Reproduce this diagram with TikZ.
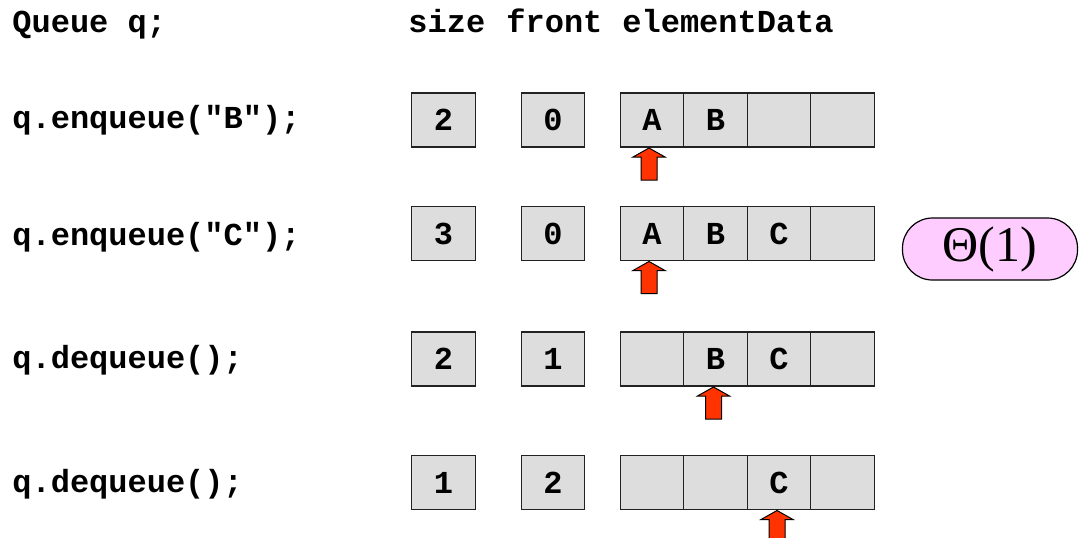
\documentclass[tikz,border=0pt]{standalone}
\usepackage{fontspec}
\setmainfont{Liberation Serif}
\newfontfamily\codefont{Liberation Mono}
\usetikzlibrary{positioning}
\definecolor{cellgray}{HTML}{DDDDDD}
\definecolor{edgegray}{HTML}{222222}
\definecolor{ptrred}{HTML}{FF3300}
\definecolor{thetapink}{HTML}{FFCCFF}

\begin{document}
\begin{tikzpicture}[
  x=0.5pt, y=-0.5pt,
  code/.style={font=\codefont\bfseries\fontsize{16}{19}\selectfont,
    anchor=base west, inner sep=0pt},
  cell/.style={draw=edgegray, line width=0.6pt, fill=cellgray,
    minimum width=31.75pt, minimum height=27pt, inner sep=0pt, outer sep=0pt,
    font=\codefont\bfseries\fontsize{16}{19}\selectfont},
  ptr/.style={draw=black, line width=0.5pt, fill=ptrred, line join=miter},
  theta/.style={draw=black, line width=0.6pt, fill=thetapink,
    rounded corners=15pt, minimum width=87.5pt, minimum height=31pt,
    font=\fontsize{25}{29}\selectfont},
]

% Background
\fill[white] (0,0) rectangle (1080,537);
\useasboundingbox (0,0) rectangle (1080,537);

% Header line
\node[code] (decl) at (12,32) {Queue q;};
\node[code] (hsize) at (408,32) {size};
\node[code] (hfront) at (506,32) {front};
\node[code] (hdata) at (622,32) {elementData};

% =============================================
% Row 1: enqueue B
% =============================================
\node[code] (op1) at (12,128) {q.enqueue("B");};
\node[cell] (s1) at (443.5,120) {2};
\node[cell] (f1) at (553,120) {0};
\node[cell] (e1a) at (652,120) {A};
\node[cell, right=0pt of e1a] (e1b) {B};
\node[cell, right=0pt of e1b] (e1c) {};
\node[cell, right=0pt of e1c] (e1d) {};
% front pointer
\draw[ptr] ([xshift=-1.5pt, yshift=-0.5pt]e1a.south) -- ++(16,9) -- ++(-8,0)
  -- ++(0,23) -- ++(-16,0) -- ++(0,-23) -- ++(-8,0) -- cycle;

% =============================================
% Row 2: enqueue C
% =============================================
\node[code] (op2) at (12,245) {q.enqueue("C");};
\node[cell] (s2) at (443.5,233.5) {3};
\node[cell] (f2) at (553,233.5) {0};
\node[cell] (e2a) at (652,233.5) {A};
\node[cell, right=0pt of e2a] (e2b) {B};
\node[cell, right=0pt of e2b] (e2c) {C};
\node[cell, right=0pt of e2c] (e2d) {};
\draw[ptr] ([xshift=-1.5pt, yshift=-0.5pt]e2a.south) -- ++(16,9) -- ++(-8,0)
  -- ++(0,23) -- ++(-16,0) -- ++(0,-23) -- ++(-8,0) -- cycle;

% cost of each operation
\node[theta] (cost) at (990,249) {Θ(1)};

% =============================================
% Row 3: dequeue
% =============================================
\node[code] (op3) at (12,368) {q.dequeue();};
\node[cell] (s3) at (443.5,359) {2};
\node[cell] (f3) at (553,359) {1};
\node[cell] (e3a) at (652,359) {};
\node[cell, right=0pt of e3a] (e3b) {B};
\node[cell, right=0pt of e3b] (e3c) {C};
\node[cell, right=0pt of e3c] (e3d) {};
\draw[ptr] ([xshift=-1pt, yshift=-0.5pt]e3b.south) -- ++(16,9) -- ++(-8,0)
  -- ++(0,23) -- ++(-16,0) -- ++(0,-23) -- ++(-8,0) -- cycle;

% =============================================
% Row 4: dequeue
% =============================================
\node[code] (op4) at (12,492) {q.dequeue();};
\node[cell] (s4) at (443.5,482.5) {1};
\node[cell] (f4) at (553,482.5) {2};
\node[cell] (e4a) at (652,482.5) {};
\node[cell, right=0pt of e4a] (e4b) {};
\node[cell, right=0pt of e4b] (e4c) {C};
\node[cell, right=0pt of e4c] (e4d) {};
\draw[ptr] ([xshift=-1pt, yshift=-0.5pt]e4c.south) -- ++(16,9) -- ++(-8,0)
  -- ++(0,23) -- ++(-16,0) -- ++(0,-23) -- ++(-8,0) -- cycle;

\end{tikzpicture}
\end{document}
